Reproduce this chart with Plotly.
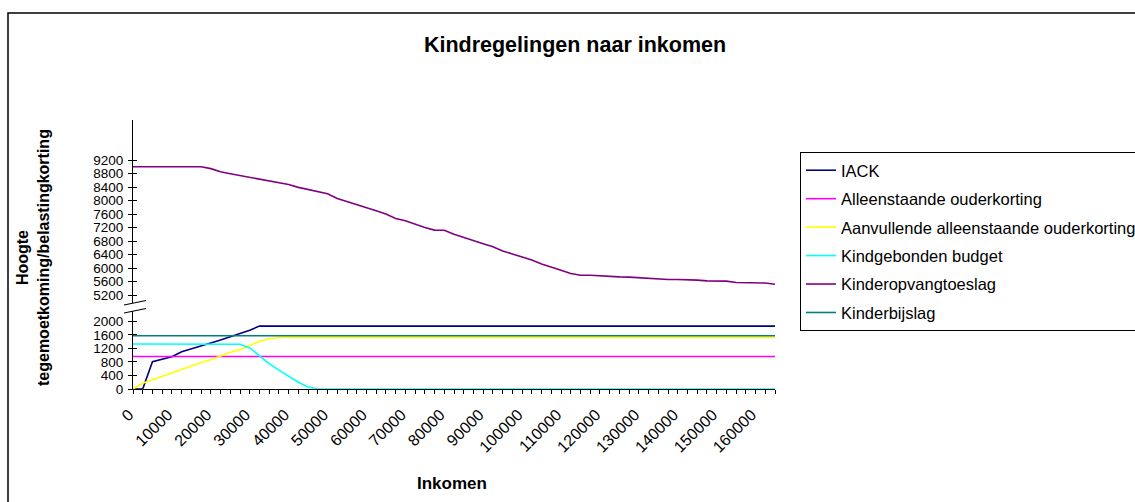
import plotly.graph_objects as go

# inkomen (categorie-as, stappen van 2500)
inkomen = [0, 2500, 5000, 7500, 10000, 12500, 15000, 17500, 20000, 22500,
           25000, 27500, 30000, 32500, 35000, 37500, 40000, 42500, 45000, 47500,
           50000, 52500, 55000, 57500, 60000, 62500, 65000, 67500, 70000, 72500,
           75000, 77500, 80000, 82500, 85000, 87500, 90000, 92500, 95000, 97500,
           100000, 102500, 105000, 107500, 110000, 112500, 115000, 117500, 120000, 122500,
           125000, 127500, 130000, 132500, 135000, 137500, 140000, 142500, 145000, 147500,
           150000, 152500, 155000, 157500, 160000, 162500, 165000]

iack = [0, 0, 810, 885, 955, 1100, 1180, 1265, 1360, 1450,
        1545, 1640, 1740, 1860, 1860, 1860, 1860, 1860, 1860, 1860,
        1860, 1860, 1860, 1860, 1860, 1860, 1860, 1860, 1860, 1860,
        1860, 1860, 1860, 1860, 1860, 1860, 1860, 1860, 1860, 1860,
        1860, 1860, 1860, 1860, 1860, 1860, 1860, 1860, 1860, 1860,
        1860, 1860, 1860, 1860, 1860, 1860, 1860, 1860, 1860, 1860,
        1860, 1860, 1860, 1860, 1860, 1860, 1860]

alleenstaande = [960, 960, 960, 960, 960, 960, 960, 960, 960, 960,
                 960, 960, 960, 960, 960, 960, 960, 960, 960, 960,
                 960, 960, 960, 960, 960, 960, 960, 960, 960, 960,
                 960, 960, 960, 960, 960, 960, 960, 960, 960, 960,
                 960, 960, 960, 960, 960, 960, 960, 960, 960, 960,
                 960, 960, 960, 960, 960, 960, 960, 960, 960, 960,
                 960, 960, 960, 960, 960, 960, 960]

aanvullende = [0, 170, 272, 375, 478, 560, 670, 783, 862, 975,
               1087, 1165, 1290, 1415, 1485, 1525, 1525, 1525, 1525, 1525,
               1525, 1525, 1525, 1525, 1525, 1525, 1525, 1525, 1525, 1525,
               1525, 1525, 1525, 1525, 1525, 1525, 1525, 1525, 1525, 1525,
               1525, 1525, 1525, 1525, 1525, 1525, 1525, 1525, 1525, 1525,
               1525, 1525, 1525, 1525, 1525, 1525, 1525, 1525, 1525, 1525,
               1525, 1525, 1525, 1525, 1525, 1525, 1525]

kindgebonden = [1330, 1330, 1330, 1330, 1330, 1330, 1330, 1330, 1330, 1330,
                1330, 1325, 1215, 970, 753, 558, 380, 200, 57, 0,
                0, 0, 0, 0, 0, 0, 0, 0, 0, 0,
                0, 0, 0, 0, 0, 0, 0, 0, 0, 0,
                0, 0, 0, 0, 0, 0, 0, 0, 0, 0,
                0, 0, 0, 0, 0, 0, 0, 0, 0, 0,
                0, 0, 0, 0, 0, 0, 0]

kinderopvang = [9000, 9000, 9000, 9000, 9000, 9000, 9000, 9000, 8945, 8850,
                8795, 8745, 8676, 8630, 8585, 8525, 8475, 8390, 8330, 8270,
                8200, 8060, 7975, 7890, 7790, 7700, 7600, 7470, 7400, 7290,
                7200, 7126, 7120, 7000, 6900, 6820, 6720, 6631, 6510, 6420,
                6330, 6240, 6125, 6040, 5935, 5840, 5792, 5792, 5775, 5743,
                5743, 5735, 5713, 5700, 5664, 5664, 5664, 5664, 5645, 5625,
                5625, 5615, 5575, 5575, 5575, 5560, 5525]

kinderbijslag = [1575, 1575, 1575, 1575, 1575, 1575, 1575, 1575, 1575, 1575,
                 1575, 1575, 1575, 1575, 1575, 1575, 1575, 1575, 1575, 1575,
                 1575, 1575, 1575, 1575, 1575, 1575, 1575, 1575, 1575, 1575,
                 1575, 1575, 1575, 1575, 1575, 1575, 1575, 1575, 1575, 1575,
                 1575, 1575, 1575, 1575, 1575, 1575, 1575, 1575, 1575, 1575,
                 1575, 1575, 1575, 1575, 1575, 1575, 1575, 1575, 1575, 1575,
                 1575, 1575, 1575, 1575, 1575, 1575, 1575]

x_labels = [0, 10000, 20000, 30000, 40000, 50000, 60000, 70000, 80000,
            90000, 100000, 110000, 120000, 130000, 140000, 150000, 160000]
y_low_ticks = [0, 400, 800, 1200, 1600, 2000]
y_high_ticks = [5200, 5600, 6000, 6400, 6800, 7200, 7600, 8000, 8400, 8800, 9200]

# plotgebied in pixels
L, R, T, B = 133, 775, 120, 389
W, H = R - L, B - T


def px(x):
    return (x - L) / W


def py(y):
    return (B - y) / H


FONT = "Liberation Sans, Arial, sans-serif"

series = [
    ("IACK", iack, "#000080", "y"),
    ("Alleenstaande ouderkorting", alleenstaande, "#FF00FF", "y"),
    ("Aanvullende alleenstaande ouderkorting", aanvullende, "#FFFF00", "y"),
    ("Kindgebonden budget", kindgebonden, "#00FFFF", "y"),
    ("Kinderopvangtoeslag", kinderopvang, "#800080", "y2"),
    ("Kinderbijslag", kinderbijslag, "#008080", "y"),
]

fig = go.Figure()
for name, vals, col, ax in series:
    fig.add_trace(go.Scatter(
        x=inkomen, y=vals, name=name, mode="lines", yaxis=ax,
        line=dict(color=col, width=1.6), legendgroup=name,
    ))

low_top = py(311)
high_bot = py(303)
scale = 33.8  # px per 1000

axis_common = dict(showgrid=False, zeroline=False, showline=True, linecolor="black",
                   linewidth=1, ticks="outside", ticklen=4, tickcolor="black")
yfont = dict(family=FONT, size=13.5, color="black")

fig.update_layout(
    width=1135, height=502,
    margin=dict(l=L, r=1135 - R, t=T, b=502 - B, autoexpand=False),
    paper_bgcolor="white", plot_bgcolor="white",
    font=dict(family=FONT, color="black"),
    title=dict(text="Kindregelingen naar inkomen", x=575 / 1135, xanchor="center",
               y=1 - 44 / 502, yanchor="middle", xref="container",
               font=dict(family=FONT, size=21.5, color="black", weight="bold")),
    xaxis=dict(range=[0, 165000], tickvals=x_labels, tickformat="d", tickangle=-45,
               anchor="y", tickfont=dict(family=FONT, size=16, color="black"),
               ticklabelshift=-4, ticklabelstandoff=5,
               minor=dict(dtick=2500, tick0=0, ticks="outside", ticklen=4, tickcolor="black"),
               **axis_common),
    yaxis=dict(domain=[0, low_top], range=[0, (B - 311) / scale * 1000],
               tickvals=y_low_ticks, anchor="x", tickfont=yfont, ticklabelstandoff=2,
               **axis_common),
    yaxis2=dict(domain=[high_bot, 1], range=[9200 - (303 - 160) / scale * 1000,
                                            9200 + (160 - T) / scale * 1000],
                tickvals=y_high_ticks, anchor="x", tickfont=yfont, ticklabelstandoff=2,
                **axis_common),
    legend=dict(x=px(800), xanchor="left", y=py(152), yanchor="top",
                bordercolor="black", borderwidth=1, bgcolor="white",
                font=dict(family=FONT, size=16.5, color="black"),
                tracegroupgap=4, itemwidth=30, traceorder="grouped"),
    showlegend=True,
)

# kruisende maatstreepjes op de y-assen
for name, base in (("yaxis3", "y"), ("yaxis4", "y2")):
    src = fig.layout["yaxis" if base == "y" else "yaxis2"]
    fig.layout[name] = dict(overlaying=base, anchor="x", range=src.range,
                            tickvals=src.tickvals, ticks="inside", ticklen=4,
                            tickcolor="black", showticklabels=False, showgrid=False,
                            zeroline=False, showline=False)
fig.add_trace(go.Scatter(x=[None], y=[None], yaxis="y3", showlegend=False))
fig.add_trace(go.Scatter(x=[None], y=[None], yaxis="y4", showlegend=False))

# asbreuk
for yb in (309, 317):
    fig.add_shape(type="line", xref="paper", yref="paper",
                  x0=px(124), y0=py(yb - 4), x1=px(146), y1=py(yb - 8.5),
                  line=dict(color="black", width=1.2))
fig.add_shape(type="rect", xref="paper", yref="paper", x0=px(131), x1=px(136),
              y0=py(310), y1=py(304), fillcolor="white", line_width=0)

# rand van de grafiek
fig.add_shape(type="rect", xref="paper", yref="paper", x0=px(8), y0=py(540),
              x1=px(1160), y1=py(13), line=dict(color="black", width=1.5),
              fillcolor="rgba(0,0,0,0)", layer="below")

fig.add_annotation(text="<b>Hoogte<br>tegemoetkoming/belastingkorting</b>",
                   textangle=-90, x=px(33), y=py(258), xref="paper", yref="paper",
                   xanchor="center", yanchor="middle", showarrow=False,
                   font=dict(family=FONT, size=16, color="black"))
fig.add_annotation(text="<b>Inkomen</b>", x=px(452), y=py(483), xref="paper", yref="paper",
                   xanchor="center", yanchor="middle", showarrow=False,
                   font=dict(family=FONT, size=17, color="black"))

fig.write_html("out.html", config={"displayModeBar": False},
               post_script="document.body.style.margin='0';")
